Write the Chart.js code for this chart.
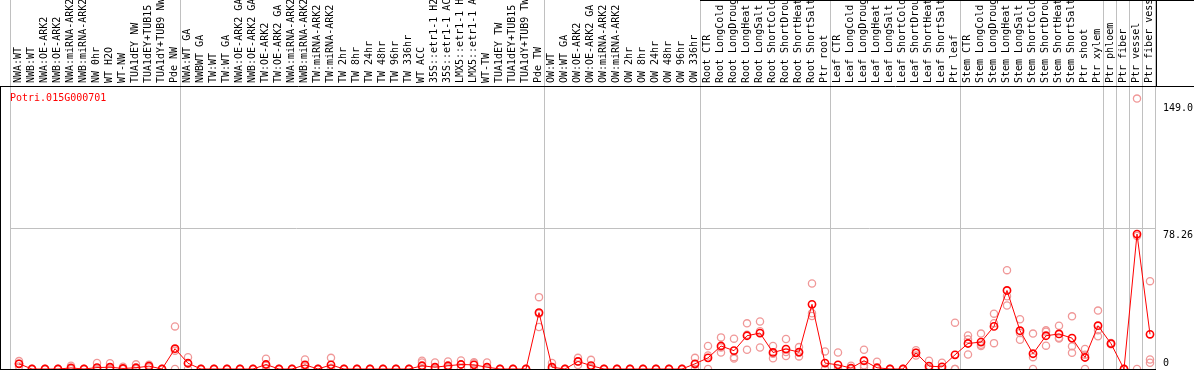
<!DOCTYPE html>
<html>
<head>
<meta charset="utf-8">
<script src="https://cdn.jsdelivr.net/npm/chart.js@4.4.0/dist/chart.umd.min.js"></script>
<style>
  body { margin: 0; background: #fff; }
  canvas { display: block; }
</style>
</head>
<body>
<canvas id="myChart" width="1194" height="370"></canvas>
<script>
// data ------------------------------------------------------------------>

const geneName = 'Potri.015G000701';

const categories = [
    'NWA:WT', 'NWB:WT', 'NWA:OE-ARK2', 'NWB:OE-ARK2', 'NWA:miRNA-ARK2', 'NWB:miRNA-ARK2',
    'NW 0hr', 'WT H2O', 'WT-NW', 'TUA1dEY NW', 'TUA1dEY+TUB15 NW', 'TUA1dY+TUB9 NW', 'Pde NW',
    'NWA:WT GA', 'NWBWT GA', 'TW:WT', 'TW:WT GA', 'NWA:OE-ARK2 GA', 'NWB:OE-ARK2 GA',
    'TW:OE-ARK2', 'TW:OE-ARK2 GA', 'NWA:miRNA-ARK2', 'NWB:miRNA-ARK2', 'TW:miRNA-ARK2', 'TW:miRNA-ARK2',
    'TW 2hr', 'TW 8hr', 'TW 24hr', 'TW 48hr', 'TW 96hr', 'TW 336hr', 'WT ACC',
    '35S::etr1-1 H2O', '35S::etr1-1 ACC', 'LMX5::etr1-1 H2O', 'LMX5::etr1-1 ACC',
    'WT-TW', 'TUA1dEY TW', 'TUA1dEY+TUB15 TW', 'TUA1dY+TUB9 TW', 'Pde TW',
    'OW:WT', 'OW:WT GA', 'OW:OE-ARK2', 'OW:OE-ARK2 GA', 'OW:miRNA-ARK2', 'OW:miRNA-ARK2',
    'OW 2hr', 'OW 8hr', 'OW 24hr', 'OW 48hr', 'OW 96hr', 'OW 336hr',
    'Root CTR', 'Root LongCold', 'Root LongDrought', 'Root LongHeat', 'Root LongSalt',
    'Root ShortCold', 'Root ShortDrought', 'Root ShortHeat', 'Root ShortSalt', 'Ptr root',
    'Leaf CTR', 'Leaf LongCold', 'Leaf LongDrought', 'Leaf LongHeat', 'Leaf LongSalt',
    'Leaf ShortCold', 'Leaf ShortDrought', 'Leaf ShortHeat', 'Leaf ShortSalt', 'Ptr leaf',
    'Stem CTR', 'Stem LongCold', 'Stem LongDrought', 'Stem LongHeat', 'Stem LongSalt',
    'Stem ShortCold', 'Stem ShortDrought', 'Stem ShortHeat', 'Stem ShortSalt', 'Ptr shoot',
    'Ptr xylem', 'Ptr phloem', 'Ptr fiber', 'Ptr vessel', 'Ptr fiber vessel'
];

// mean expression per sample
const means = [
    2.9, 0, 0, 0, 0.6, 0, 0.8, 1.0, 0.3, 0.7, 1.6, 0, 11.3,
    3.2, 0, 0, 0, 0, 0, 2.5, 0, 0, 2.3, 0, 2.3, 0, 0, 0, 0, 0, 0, 1.8, 1.0, 1.8, 2.5, 2.3, 1.0, 0, 0, 0, 31.4,
    1.0, 0, 4.2, 1.9, 0, 0, 0, 0, 0, 0, 0, 2.9,
    6.2, 12.8, 10.2, 18.5, 20.0, 9.2, 11.1, 9.4, 36.0, 3.3,
    2.3, 0.5, 4.6, 0.7, 0, 0, 9.0, 1.6, 1.2, 7.9,
    14.2, 15.0, 23.7, 43.7, 21.3, 8.5, 18.5, 19.5, 17.2, 6.4,
    24.1, 14.1, 0, 75.1, 19.3
];

// single replicates (light circles)
const rep1 = [
    4.4, 0, 0, 0, 1.8, 0, 3.3, 3.2, 1.3, 2.6, 2.3, 0, 23.7,
    6.6, 0, 0, 0, 0, 0, 5.7, 0, 0, 5.3, 0, 6.2, 0, 0, 0, 0, 0, 0, 4.6, 3.6, 4.2, 4.7, 3.8, 3.6, 0, 0, 0, 40.0,
    3.4, 0, 6.2, 5.1, 0, 0, 0, 0, 0, 0, 0, 6.2,
    12.8, 17.6, 16.9, 25.4, 26.4, 12.8, 16.7, 12.2, 47.6, 9.8,
    9.2, 1.8, 10.7, 4.0, 0, 0, 10.5, 4.6, 3.5, 25.8,
    18.7, 19.7, 30.8, 55.0, 27.7, 19.7, 21.5, 24.1, 29.3, 11.1,
    32.5, 14.5, 0, 150.5, 48.9
];
const rep2 = [
    2.9, 0, 0, 0, 0, 0, 0, 0, 0, 0, 1.6, 0, 10.2,
    3.0, 0, 0, 0, 0, 0, 1.8, 0, 0, 1.6, 0, 0.7, 0, 0, 0, 0, 0, 0, 3.6, 0, 1.2, 2.5, 3.2, 0, 0, 0, 0, 30.8,
    0, 0, 4.2, 0.6, 0, 0, 0, 0, 0, 0, 0, 2.5,
    7.5, 12.0, 6.6, 19.0, 21.0, 8.5, 9.5, 9.0, 31.0, 0.2,
    0, 0, 2.1, 0, 0, 0, 9.0, 0.2, 0, 0,
    16.5, 12.8, 25.5, 40.5, 20.0, 6.6, 20.8, 17.4, 12.6, 8.0,
    21.5, 14.0, 0, 74.0, 5.3
];
const rep3 = [
    1.4, 0, 0, 0, 0, 0, 0, 0, 0, 0, 0.9, 0, 0,
    0, 0, 0, 0, 0, 0, 0, 0, 0, 0, 0, 0, 0, 0, 0, 0, 0, 0, 0, 0, 0, 0.3, 0, 0, 0, 0, 0, 23.4,
    0, 0, 2.2, 0, 0, 0, 0, 0, 0, 0, 0, 0,
    0, 9.2, 5.8, 10.7, 12.0, 6.0, 7.2, 7.0, 29.5, 0,
    0, 0, 1.0, 0, 0, 0, 7.5, 0, 0, 0,
    8.1, 13.5, 14.4, 35.3, 16.3, 0, 13.0, 17.0, 9.0, 0,
    18.2, 13.8, 0, 0, 3.5
];

const yTickValues = [0, 78.26, 149.0];
const yTickLabels = ['0', '78.26', '149.0'];

// last sample of every group, a separator is drawn after it
const groupEnds = [12, 40, 52, 62, 72, 83, 84, 85, 86, 87];

const monoFont = '10px "DejaVu Sans Mono"';


// points for chart.js ---------------------------------------------------->

const meanPoints = means.map((v, i) => ({ x: i, y: v }));
const repPoints = [];
[rep1, rep2, rep3].forEach(rep => {
    rep.forEach((v, i) => repPoints.push({ x: i, y: v }));
});


// separators, frame lines, gene name and value labels
const framePlugin = {
    id: 'frame',
    beforeDatasetsDraw(chart) {
        const ctx = chart.ctx;
        const area = chart.chartArea;
        const xs = chart.scales.x;
        ctx.save();
        ctx.strokeStyle = '#c0c0c0';
        ctx.lineWidth = 1;
        ctx.beginPath();
        const lx = Math.round(area.left) + 0.5;
        ctx.moveTo(lx, 0);
        ctx.lineTo(lx, chart.height);
        groupEnds.forEach(i => {
            const px = Math.round(xs.getPixelForValue(i + 0.385)) + 0.5;
            ctx.moveTo(px, 0);
            ctx.lineTo(px, chart.height);
        });
        ctx.stroke();
        ctx.restore();
    },
    afterDraw(chart) {
        const ctx = chart.ctx;
        const area = chart.chartArea;
        const ys = chart.scales.y;
        const xs = chart.scales.x;
        ctx.save();
        ctx.strokeStyle = '#000';
        ctx.lineWidth = 1;
        ctx.beginPath();
        // line under the labels
        ctx.moveTo(0, area.top + 0.5);
        ctx.lineTo(chart.width, area.top + 0.5);
        // plot bottom and left
        ctx.moveTo(0, area.bottom + 0.5);
        ctx.lineTo(area.right, area.bottom + 0.5);
        ctx.moveTo(0.5, area.top);
        ctx.lineTo(0.5, chart.height);
        // right side of the label block
        ctx.moveTo(area.right + 0.5, 0);
        ctx.lineTo(area.right + 0.5, area.top);
        // top edge from the tissue samples on
        const topStart = Math.round(xs.getPixelForValue(52.385));
        ctx.moveTo(topStart, 0.5);
        ctx.lineTo(chart.width, 0.5);
        ctx.stroke();

        ctx.font = monoFont;
        ctx.textAlign = 'left';
        ctx.textBaseline = 'alphabetic';
        ctx.fillStyle = '#ff0000';
        ctx.fillText(geneName, area.left, area.top + 15);

        ctx.fillStyle = '#000';
        yTickValues.forEach((v, i) => {
            const py = ys.getPixelForValue(v);
            const shift = v === 0 ? -3.5 : 9.5;
            ctx.fillText(yTickLabels[i], area.right + 7, py + shift);
        });
        ctx.restore();
    }
};


// create the chart ------------------------------------------------------->

Chart.defaults.font.family = '"DejaVu Sans Mono"';
Chart.defaults.font.size = 10;
Chart.defaults.color = '#000';

const ctx = document.getElementById('myChart');
const myChart = new Chart(ctx, {
    type: 'line',
    data: {
        datasets: [
            {
                label: 'mean',
                data: meanPoints,
                borderColor: '#ff0000',
                borderWidth: 1,
                pointRadius: 3.6,
                pointBorderWidth: 1.6,
                pointBorderColor: '#ff0000',
                pointBackgroundColor: 'rgba(0,0,0,0)',
                tension: 0,
                clip: false
            },
            {
                label: 'replicates',
                data: repPoints,
                showLine: false,
                pointRadius: 3.6,
                pointBorderWidth: 1.3,
                pointBorderColor: '#f09898',
                pointBackgroundColor: 'rgba(0,0,0,0)',
                clip: false
            }
        ]
    },
    plugins: [framePlugin],
    options: {
        responsive: false,
        animation: false,
        devicePixelRatio: 1,
        layout: {
            autoPadding: false,
            padding: { left: 10, top: 0, right: 0, bottom: 1 }
        },
        plugins: {
            legend: { display: false },
            tooltip: { enabled: false }
        },
        scales: {
            x: {
                type: 'linear',
                position: 'top',
                min: -9 / 13,
                max: 87 + 6 / 13,
                afterBuildTicks: (axis) => {
                    axis.ticks = categories.map((c, i) => ({ value: i }));
                },
                afterFit: (axis) => { axis.height = 86; },
                grid: { display: false, drawTicks: false },
                border: { display: false },
                ticks: {
                    autoSkip: false,
                    minRotation: 90,
                    maxRotation: 90,
                    padding: 3,
                    labelOffset: 11,
                    font: { size: 10 },
                    callback: (value) => categories[value] || ''
                }
            },
            y: {
                type: 'linear',
                position: 'right',
                min: 0,
                max: 157.5,
                afterBuildTicks: (axis) => {
                    axis.ticks = yTickValues.map(v => ({ value: v }));
                },
                afterFit: (axis) => { axis.width = 38; },
                grid: {
                    drawTicks: false,
                    color: (c) => (c.tick && c.tick.value === 78.26) ? '#c0c0c0' : 'rgba(0,0,0,0)'
                },
                border: { display: false },
                ticks: { display: false }
            }
        }
    }
});
</script>
</body>
</html>
